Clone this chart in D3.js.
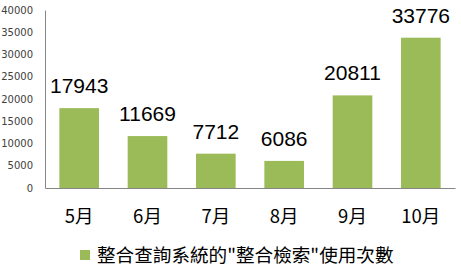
<!DOCTYPE html>
<html>
<head>
<meta charset="utf-8">
<script src="https://cdn.jsdelivr.net/npm/d3@7"></script>
<style>
    body { margin: 0; background: #fff; }
</style>
</head>
<body>
<div id="chart"></div>
<script>
const months = ['5月', '6月', '7月', '8月', '9月', '10月'];
const usage = [17943, 11669, 7712, 6086, 20811, 33776];
const yTicks = [0, 5000, 10000, 15000, 20000, 25000, 30000, 35000, 40000];
const seriesName = '整合查詢系統的"整合檢索"使用次數';

const width = 461;
const height = 275;
const plot = { left: 45, right: 455, top: 10, bottom: 188 };

const svg = d3.select('#chart').append('svg')
    .attr('width', width)
    .attr('height', height);

const x = d3.scaleBand()
    .domain(months)
    .range([plot.left, plot.right])
    .paddingInner(0.42)
    .paddingOuter(0.21);

const y = d3.scaleLinear()
    .domain([0, 40000])
    .range([plot.bottom, plot.top]);

// y axis, labels only plus the axis line
const yAxis = svg.append('g')
    .attr('transform', `translate(${plot.left},0)`)
    .call(d3.axisLeft(y).tickValues(yTicks).tickSize(0).tickPadding(12).tickFormat(d3.format('d')));
yAxis.select('.domain').attr('stroke', '#868686');
yAxis.selectAll('text')
    .attr('font-family', 'DejaVu Sans, Verdana, sans-serif')
    .attr('font-size', 10)
    .attr('fill', '#404040');

const xAxis = svg.append('g')
    .attr('transform', `translate(0,${plot.bottom})`)
    .call(d3.axisBottom(x).tickSize(0).tickPadding(22));
xAxis.select('.domain').attr('stroke', '#868686');
xAxis.selectAll('text')
    .attr('font-family', 'Noto Sans CJK TC, sans-serif')
    .attr('font-size', 18.5)
    .attr('fill', '#000');

svg.selectAll('.bar')
    .data(usage)
    .enter()
    .append('rect')
    .attr('class', 'bar')
    .attr('x', (d, i) => x(months[i]))
    .attr('y', d => y(d))
    .attr('width', x.bandwidth())
    .attr('height', d => y(0) - y(d))
    .attr('fill', '#9BBB59');

svg.selectAll('.value')
    .data(usage)
    .enter()
    .append('text')
    .attr('class', 'value')
    .attr('x', (d, i) => x(months[i]) + x.bandwidth() / 2)
    .attr('y', d => y(d) - 15)
    .attr('text-anchor', 'middle')
    .attr('font-family', 'Liberation Sans, Arial, sans-serif')
    .attr('font-size', 21)
    .attr('fill', '#000')
    .text(d => d);

// legend
const legend = svg.append('g').attr('transform', 'translate(80,250)');
legend.append('rect')
    .attr('width', 10)
    .attr('height', 10)
    .attr('fill', '#9BBB59');
legend.append('text')
    .attr('x', 17)
    .attr('y', 5)
    .attr('dy', '0.35em')
    .attr('font-family', 'Noto Sans CJK TC, sans-serif')
    .attr('font-size', 18.6)
    .attr('fill', '#000')
    .text(seriesName);
</script>
</body>
</html>
